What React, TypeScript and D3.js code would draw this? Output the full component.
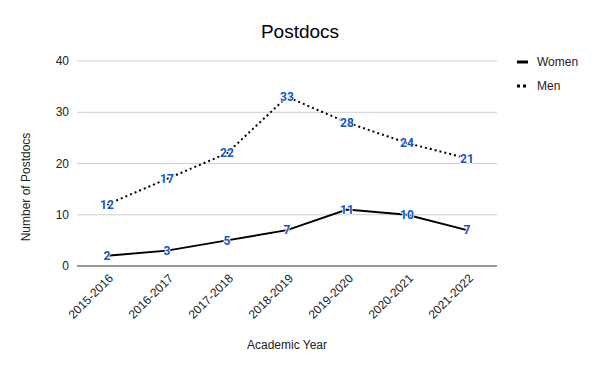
import React from 'react';
import * as d3 from 'd3';

const years = ['2015-2016', '2016-2017', '2017-2018', '2018-2019', '2019-2020', '2020-2021', '2021-2022'];
const women = [2, 3, 5, 7, 11, 10, 7];
const men = [12, 17, 22, 33, 28, 24, 21];
const yTicks = [0, 10, 20, 30, 40];

const W = 600;
const H = 371;
const margin = { top: 61, right: 103, bottom: 105, left: 77 };
const font = '"Liberation Sans", Arial, sans-serif';
const labelFont = 'Roboto, Arial, sans-serif';

const App = () => {
  const innerW = W - margin.left - margin.right;
  const innerH = H - margin.top - margin.bottom;

  const x = d3.scalePoint<string>().domain(years).range([0, innerW]).padding(0.5);
  const y = d3.scaleLinear().domain([0, 40]).range([innerH, 0]);

  const line = d3.line<number>()
    .x((_, i) => x(years[i]) as number)
    .y(d => y(d));

  const series = [
    { name: 'Women', values: women, dash: undefined as string | undefined },
    { name: 'Men', values: men, dash: '2,3' },
  ];

  return (
    <svg width={W} height={H} style={{ display: 'block', position: 'absolute', left: 0, top: 0, background: '#fff' }}>
      <text x={300} y={38} textAnchor="middle" fontFamily={font} fontSize={19} fill="#000">Postdocs</text>

      <g transform={`translate(${margin.left},${margin.top})`}>
        {yTicks.map(t => (
          <g key={t}>
            {t !== 0 && <line x1={0} x2={innerW} y1={y(t)} y2={y(t)} stroke="#ccc" strokeWidth={1} />}
            <text x={-8} y={y(t)} dy="0.35em" textAnchor="end" fontFamily={font} fontSize={12} fill="#222">{t}</text>
          </g>
        ))}
        <line x1={0} x2={innerW} y1={y(0)} y2={y(0)} stroke="#333" strokeWidth={1} />

        {years.map(yr => (
          <text key={yr}
            transform={`translate(${(x(yr) as number) + 4},${innerH + 10}) rotate(-45)`}
            textAnchor="end" dy="0.35em" fontFamily={font} fontSize={12} fill="#222">{yr}</text>
        ))}

        {series.map(s => (
          <path key={s.name} d={line(s.values) || ''} fill="none" stroke="#000" strokeWidth={2}
            strokeDasharray={s.dash} />
        ))}

        {/* value labels, thin white halo like the original */}
        {series.map(s => s.values.map((v, i) => (
          <text key={s.name + i} x={x(years[i]) as number} y={y(v)} dy="0.35em" textAnchor="middle"
            fontFamily={labelFont} fontSize={12} fontWeight="bold" fill="#1155cc"
            stroke="#fff" strokeWidth={1.5} paintOrder="stroke">{v}</text>
        )))}
      </g>

      <text x={margin.left + innerW / 2} y={349} textAnchor="middle" fontFamily={font} fontSize={12} fill="#222">Academic Year</text>
      <text transform="translate(30,187) rotate(-90)" textAnchor="middle"
        fontFamily={font} fontSize={12} fill="#222">Number of Postdocs</text>

      {series.map((s, i) => (
        <g key={s.name} transform={`translate(517,${62 + i * 24})`}>
          <line x1={0} x2={11} y1={0} y2={0} stroke="#000" strokeWidth={3} strokeDasharray={s.dash ? '3,3' : undefined} />
          <text x={20} y={0} dy="0.35em" fontFamily={font} fontSize={12} fill="#222">{s.name}</text>
        </g>
      ))}
    </svg>
  );
};

export default App;
